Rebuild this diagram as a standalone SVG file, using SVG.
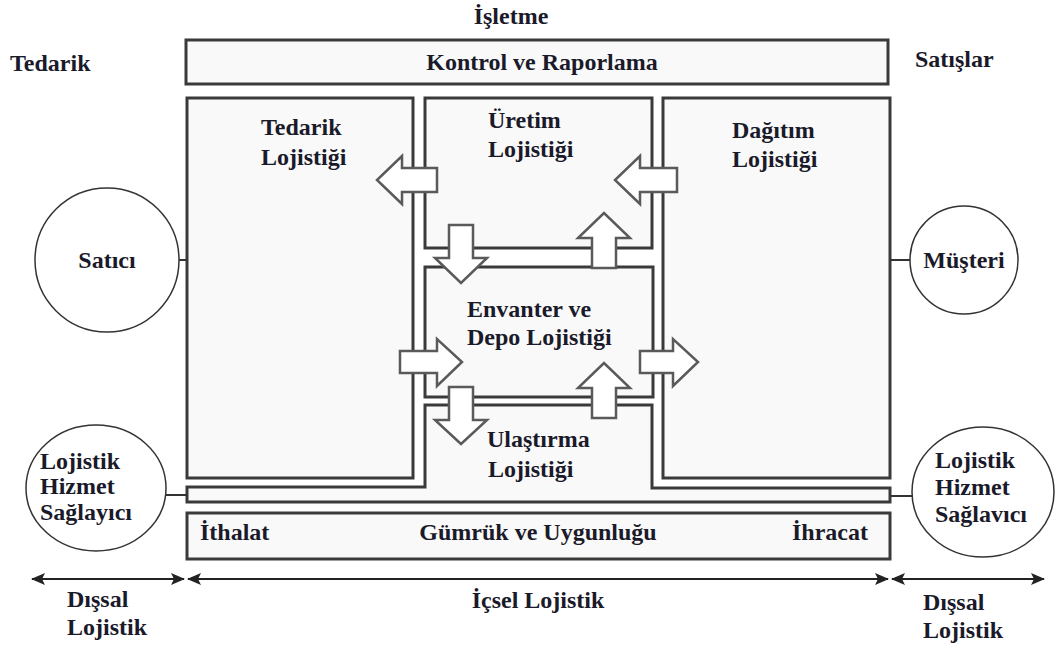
<svg xmlns="http://www.w3.org/2000/svg" width="1057" height="651" viewBox="0 0 1057 651">
  <style>
    .box { fill: #f9f9f9; stroke: #3a3a3a; stroke-width: 3; }
    .blk { fill: #ffffff; stroke: #5a5a5a; stroke-width: 2.5; stroke-linejoin: miter; }
    .circ { fill: #ffffff; stroke: #333333; stroke-width: 1.5; }
    .lnk { fill: none; stroke: #333333; stroke-width: 2; }
    .dim { fill: none; stroke: #222222; stroke-width: 2; }
    .t { font-family: 'Liberation Serif', 'DejaVu Serif', serif; font-weight: 700; font-size: 24px; fill: #1a1a2a; }
    .m { text-anchor: middle; }
  </style>
  <defs>
    <marker id="head" viewBox="0 0 14 12" refX="13" refY="6" markerWidth="14" markerHeight="12" markerUnits="userSpaceOnUse" orient="auto-start-reverse">
      <path d="M0,0 L14,6 L0,12 L3,6 Z" fill="#222222"/>
    </marker>
  </defs>
  <rect width="1057" height="651" fill="#ffffff"/>

  <!-- headings -->
  <text class="t m" x="511" y="24">İşletme</text>
  <text class="t" x="10" y="71">Tedarik</text>
  <text class="t" x="915" y="67">Satışlar</text>

  <g id="kontrol">
    <rect class="box" x="186" y="40" width="702" height="44"/>
    <text class="t m" x="542" y="70">Kontrol ve Raporlama</text>
  </g>

  <g id="tedarik">
    <rect class="box" x="187" y="98" width="226" height="380"/>
    <text class="t" x="261" y="135">Tedarik</text>
    <text class="t" x="261" y="165">Lojistiği</text>
  </g>

  <g id="uretim">
    <rect class="box" x="425" y="98" width="227" height="150"/>
    <text class="t" x="488" y="128">Üretim</text>
    <text class="t" x="488" y="157">Lojistiği</text>
  </g>

  <g id="dagitim">
    <rect class="box" x="663" y="98" width="227" height="380"/>
    <text class="t" x="732" y="138">Dağıtım</text>
    <text class="t" x="732" y="167">Lojistiği</text>
  </g>

  <g id="envanter">
    <rect class="box" x="425" y="267" width="228" height="130"/>
    <text class="t" x="467" y="317">Envanter ve</text>
    <text class="t" x="467" y="345">Depo Lojistiği</text>
  </g>

  <g id="ulastirma">
    <path class="box" d="M425,405 H652 V488 H890 V502 H187 V487 H425 Z"/>
    <text class="t" x="487" y="447">Ulaştırma</text>
    <text class="t" x="488" y="477">Lojistiği</text>
  </g>

  <g id="gumruk">
    <rect class="box" x="187" y="513" width="703" height="46"/>
    <text class="t" x="200" y="540">İthalat</text>
    <text class="t m" x="538" y="540">Gümrük ve Uygunluğu</text>
    <text class="t" x="792" y="540">İhracat</text>
  </g>

  <g id="satici">
    <circle class="circ" cx="107" cy="260" r="72"/>
    <text class="t m" x="107" y="268">Satıcı</text>
  </g>

  <g id="musteri">
    <circle class="circ" cx="964" cy="260" r="54"/>
    <text class="t m" x="964" y="268">Müşteri</text>
  </g>

  <g id="lhs-sol">
    <ellipse class="circ" cx="96" cy="488" rx="70" ry="63"/>
    <text class="t" x="40" y="469">Lojistik</text>
    <text class="t" x="40" y="494">Hizmet</text>
    <text class="t" x="40" y="520">Sağlayıcı</text>
  </g>

  <g id="lhs-sag">
    <ellipse class="circ" cx="983" cy="492" rx="71" ry="65"/>
    <text class="t" x="935" y="468">Lojistik</text>
    <text class="t" x="935" y="495">Hizmet</text>
    <text class="t" x="935" y="522">Sağlavıcı</text>
  </g>

  <g id="kapsam">
    <text class="t" x="67" y="607">Dışsal</text>
    <text class="t" x="67" y="635">Lojistik</text>
    <text class="t m" x="538" y="608">İçsel Lojistik</text>
    <text class="t" x="923" y="610">Dışsal</text>
    <text class="t" x="923" y="638">Lojistik</text>
  </g>

  <g id="connectors">
    <!-- links from the outer parties to the firm -->
    <line class="lnk" x1="179" y1="260" x2="187" y2="260"/>
    <line class="lnk" x1="890" y1="260" x2="910" y2="260"/>
    <line class="lnk" x1="166" y1="495" x2="187" y2="495"/>
    <line class="lnk" x1="890" y1="496" x2="912" y2="496"/>

    <!-- flow arrows between the logistics areas -->
    <polygon class="blk" points="437,168 402,168 402,156 377,180 402,204 402,192 437,192"/>
    <polygon class="blk" points="677,168 640,168 640,156 615,180 640,204 640,192 677,192"/>
    <polygon class="blk" points="449,225 473,225 473,258 487,258 461,283 435,258 449,258"/>
    <polygon class="blk" points="592,268 592,238 578,238 604,213 630,238 616,238 616,268"/>
    <polygon class="blk" points="400,351 437,351 437,339 462,362 437,386 437,373 400,373"/>
    <polygon class="blk" points="640,351 673,351 673,339 698,362 673,386 673,373 640,373"/>
    <polygon class="blk" points="592,418 592,388 578,388 604,363 630,388 616,388 616,418"/>
    <polygon class="blk" points="449,387 473,387 473,420 487,420 461,444 435,420 449,420"/>

    <!-- scope dimension lines -->
    <line class="dim" x1="32" y1="579" x2="184" y2="579" marker-start="url(#head)" marker-end="url(#head)"/>
    <line class="dim" x1="188" y1="579" x2="888" y2="579" marker-start="url(#head)" marker-end="url(#head)"/>
    <line class="dim" x1="892" y1="579" x2="1044" y2="579" marker-start="url(#head)" marker-end="url(#head)"/>
  </g>
</svg>
